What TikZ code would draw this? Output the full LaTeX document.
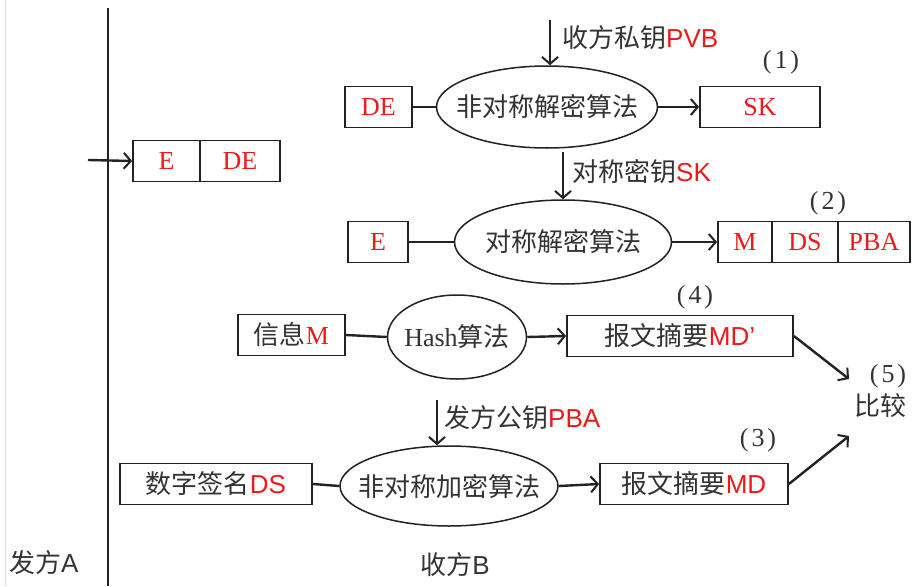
\documentclass[tikz,border=0pt]{standalone}
\usepackage{fontspec}
\setmainfont{Liberation Serif}
\newfontfamily\cjk{Noto Sans CJK SC}
\newfontfamily\sfA{Liberation Sans}
\usetikzlibrary{shapes.geometric,arrows.meta}
\definecolor{ink}{HTML}{222222}
\definecolor{txt}{HTML}{333333}
\definecolor{rd}{HTML}{F01818}
\newcommand{\R}[1]{{\color{rd}#1}}
\newcommand{\RS}[1]{{\sfA\color{rd}#1}}
\newcommand{\num}[1]{{\rmfamily (\hspace{3pt}#1\hspace{3pt})}}
\begin{document}
\begin{tikzpicture}[x=1pt,y=-1pt,
  every node/.style={text=txt,font=\fontsize{26}{30}\selectfont,inner sep=0pt},
  box/.style={draw=ink,line width=1.8pt,rectangle,minimum height=41pt},
  oval/.style={draw=ink,line width=1.5pt,ellipse,inner xsep=-30pt},
  ln/.style={draw=ink,line width=2.4pt},
  arr/.style={ln,-{Straight Barb[length=7pt,width=16pt,line width=2pt]}},
  lab/.style={anchor=west}
]
\useasboundingbox (0,0) rectangle (917,586);
\fill[white] (0,0) rectangle (917,586);
\draw[gray!25,line width=1pt] (5,0) -- (5,586);
% vertical divider
\coordinate (vt) at (108,8);
\coordinate (vb) at (108,586);
\draw[ln,line width=1.8pt] (vt) -- (vb);
\node[anchor=west] (fa) at (9,563) {\cjk 发方\sfA A};
\node (sb) at (455,565) {\cjk 收方\sfA B};

% E | DE
\node[box,minimum width=67pt] (E0) at (166.5,161) {\R{E}};
\node[box,minimum width=80pt] (DE0) at (240,161) {\R{DE}};
\coordinate (ain) at (88,160);
\draw[arr] (ain) -- (E0.west);

% row 1
\node[box,minimum width=67pt] (DE1) at (378.5,107) {\R{DE}};
\node[oval,minimum width=221pt,minimum height=82pt] (el1) at (547,107) {\cjk 非对称解密算法};
\node[box,minimum width=120pt] (SK) at (760,107) {\R{SK}};
\draw[ln] (DE1.east) -- (el1.west);
\draw[arr] (el1.east) -- (SK.west);
\coordinate (k1) at (550,20);
\draw[arr] (k1) -- (el1.north -| k1);
\node[lab] (k1l) at (562,38) {\cjk 收方私钥\RS{PVB}};
\node (n1) at (781,62) {\num{1}};

% row 2
\node[box,minimum width=60pt] (E2) at (378,242) {\R{E}};
\node[oval,minimum width=217pt,minimum height=84pt] (el2) at (563,242) {\cjk 对称解密算法};
\node[box,minimum width=54pt] (M2) at (745,242) {\R{M}};
\node[box,minimum width=66pt] (DS2) at (805,242) {\R{DS}};
\node[box,minimum width=72pt] (PBA2) at (874,242) {\R{PBA}};
\draw[ln] (E2.east) -- (el2.west);
\draw[arr] (el2.east) -- (M2.west);
\coordinate (k2) at (563,152);
\draw[arr] (k2) -- (el2.north);
\node[lab] (k2l) at (572,172) {\cjk 对称密钥\RS{SK}};
\node (n2) at (828,203) {\num{2}};

% row 3
\node[box,minimum width=107pt] (M3) at (291.5,335) {\cjk 信息\R{\rmfamily M}};
\node[oval,minimum width=139pt,minimum height=84pt] (el3) at (457,337) {Hash\cjk 算法};
\node[box,minimum width=226pt] (MDp) at (680,336) {\cjk 报文摘要\RS{MD’}};
\draw[ln] (M3.east) -- (el3.west);
\draw[arr] (el3.east) -- (MDp.west);
\node (n4) at (695,297) {\num{4}};

% compare
\node (n5) at (888,376) {\num{5}};
\node (cmp) at (880,406) {\cjk 比较};
\coordinate (c1) at (849,379);
\coordinate (c2) at (849,436);
\draw[arr] (MDp.east) -- (c1);

% row 4
\node[box,minimum width=192pt] (DS4) at (216,484) {\cjk 数字签名\RS{DS}};
\node[oval,minimum width=218pt,minimum height=80pt] (el4) at (449,486) {\cjk 非对称加密算法};
\node[box,minimum width=188pt] (MD4) at (694,484) {\cjk 报文摘要\RS{MD}};
\draw[ln] (DS4.east) -- (el4.west);
\draw[arr] (el4.east) -- (MD4.west);
\coordinate (k4) at (437,400);
\draw[arr] (k4) -- (el4.north -| k4);
\node[lab] (k4l) at (444,418) {\cjk 发方公钥\RS{PBA}};
\node (n3) at (758,440) {\num{3}};
\draw[arr] (MD4.east) -- (c2);
\end{tikzpicture}
\end{document}
